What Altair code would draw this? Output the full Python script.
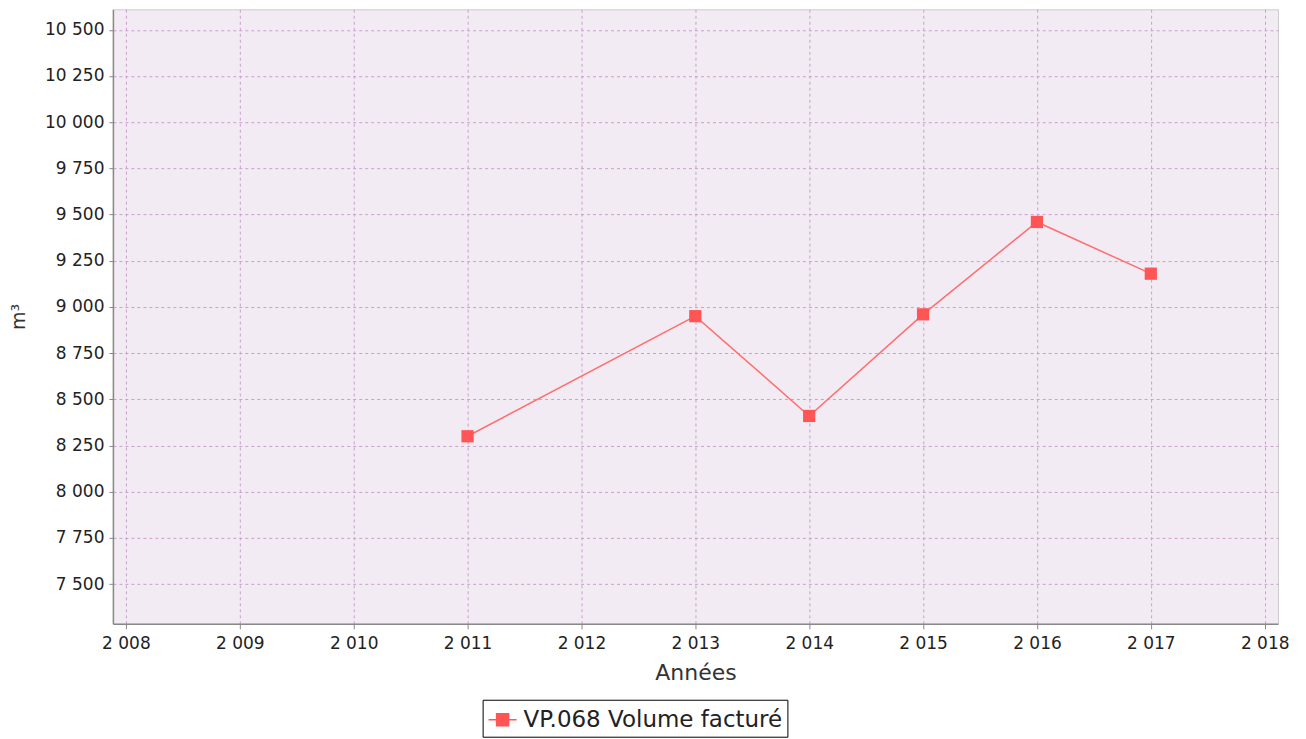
import altair as alt
import pandas as pd

years = [2011, 2013, 2014, 2015, 2016, 2017]
volumes = [8300, 8950, 8410, 8960, 9460, 9180]
series_name = "VP.068 Volume facturé"
y_ticks = [7500, 7750, 8000, 8250, 8500, 8750, 9000, 9250, 9500, 9750, 10000, 10250, 10500]
x_ticks = [2008, 2009, 2010, 2011, 2012, 2013, 2014, 2015, 2016, 2017, 2018]

df = pd.DataFrame({"annee": years, "volume": volumes, "serie": [series_name] * len(years)})

RED = "#FF5555"
LINE_RED = "#FF6E6E"
FONT = "DejaVu Sans"
sep_expr = "replace(format(datum.value, ',d'), ',', ' ')"

x_enc = alt.X(
    "annee:Q",
    title="Années",
    scale=alt.Scale(domain=[2007.886, 2018.117], nice=False, zero=False),
    axis=alt.Axis(values=x_ticks, labelExpr=sep_expr, labelFontSize=17, titleFontSize=22,
                  labelPadding=7, titlePadding=11, tickSize=5, labelFlush=False),
)
y_enc = alt.Y(
    "volume:Q",
    title="m³",
    scale=alt.Scale(domain=[7285, 10611], nice=False, zero=False),
    axis=alt.Axis(values=y_ticks, labelExpr=sep_expr, labelFontSize=17, titleFontSize=19,
                  labelPadding=5, titlePadding=16, tickSize=4, labelFlush=False),
)
color_enc = alt.Color(
    "serie:N",
    scale=alt.Scale(range=[RED]),
    legend=alt.Legend(
        title=None, orient="none", legendX=370, legendY=691,
        symbolType="M-1,0H1M-0.43,-0.43H0.43V0.43H-0.43Z",
        symbolSize=784, symbolStrokeWidth=1.5,
        symbolFillColor=RED, symbolStrokeColor=RED,
        labelFontSize=23, labelFont=FONT, labelColor="#222222", labelLimit=0,
        labelOffset=6, padding=5, strokeColor="#000000", fillColor="#FFFFFF",
        cornerRadius=0,
    ),
)

line = alt.Chart(df).mark_line(strokeWidth=1.5, color=LINE_RED).encode(x=x_enc, y=y_enc)
pts = alt.Chart(df).mark_point(shape="square", size=150, filled=True, opacity=1).encode(
    x=x_enc, y=y_enc, color=color_enc
)

chart = (
    alt.layer(line, pts)
    .properties(
        width=1166, height=615,
        autosize=alt.AutoSizeParams(type="none"),
        padding={"left": 105, "top": 1, "right": 20, "bottom": 115},
        background="#FFFFFF",
    )
    .configure_view(fill="#F3EBF4", stroke="#CCCCCC", strokeWidth=1)
    .configure_axis(
        labelFont=FONT, titleFont=FONT, labelColor="#222222", titleColor="#333333",
        titleFontWeight="normal", domainColor="#888888", tickColor="#888888",
        gridColor="#C8A0CC", gridDash=[3, 3], gridWidth=1, gridOpacity=1,
        domainWidth=1.5,
    )
)

chart.save("out.html", embed_options={"renderer": "svg", "actions": False})
